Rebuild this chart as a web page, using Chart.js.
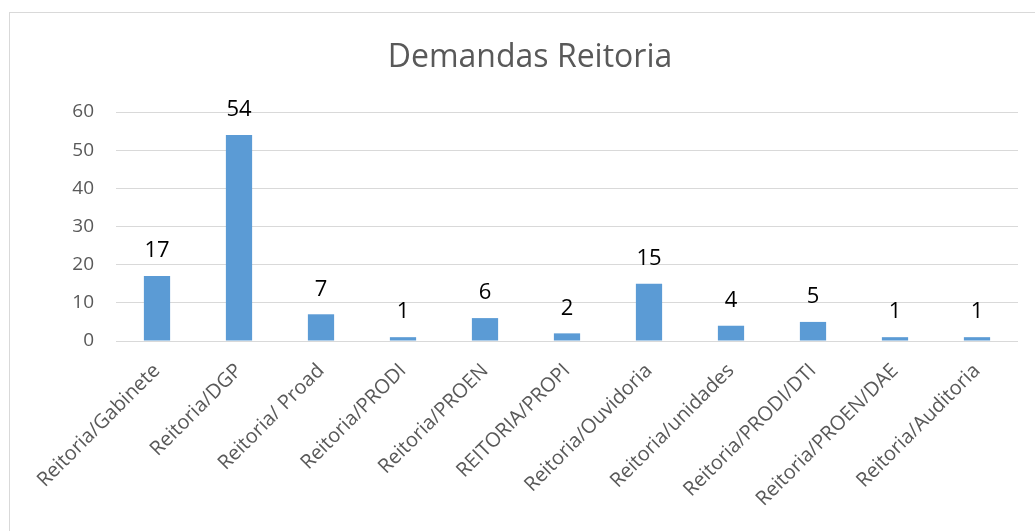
<!DOCTYPE html>
<html>
<head>
<meta charset="utf-8">
<script src="https://cdn.jsdelivr.net/npm/chart.js@4/dist/chart.umd.min.js"></script>
<style>
  html, body { margin: 0; padding: 0; background: #ffffff; overflow: hidden; }
  #frame { position: absolute; left: 9px; top: 12px; width: 1100px; height: 600px; border: 1px solid #d9d9d9; box-sizing: border-box; }
  #wrap { position: absolute; left: 0; top: 0; width: 1035px; height: 531px; }
</style>
</head>
<body>
<div id="frame"></div>
<div id="wrap"><canvas id="c" width="1035" height="531"></canvas></div>
<script>
const chartTitle = "Demandas Reitoria";
const categories = [
  "Reitoria/Gabinete", "Reitoria/DGP", "Reitoria/ Proad", "Reitoria/PRODI",
  "Reitoria/PROEN", "REITORIA/PROPI", "Reitoria/Ouvidoria", "Reitoria/unidades",
  "Reitoria/PRODI/DTI", "Reitoria/PROEN/DAE", "Reitoria/Auditoria"
];
const values = [17, 54, 7, 1, 6, 2, 15, 4, 5, 1, 1];
const yTicks = [0, 10, 20, 30, 40, 50, 60];

const FONT = "'Open Sans', 'DejaVu Sans', sans-serif";

const titleDrawer = {
  id: 'titleDrawer',
  afterDraw(chart) {
    const ctx = chart.ctx;
    ctx.save();
    ctx.font = "32px " + FONT;
    ctx.fillStyle = "#595959";
    ctx.textAlign = "center";
    ctx.textBaseline = "alphabetic";
    ctx.fillText(chartTitle, 530, 67);
    ctx.restore();
  }
};

const valueLabels = {
  id: 'valueLabels',
  afterDatasetsDraw(chart) {
    const ctx = chart.ctx;
    const meta = chart.getDatasetMeta(0);
    ctx.save();
    ctx.font = "22px " + FONT;
    ctx.fillStyle = "#000000";
    ctx.textAlign = "center";
    ctx.textBaseline = "bottom";
    meta.data.forEach((bar, i) => {
      ctx.fillText(String(values[i]), bar.x, bar.y - 14);
    });
    ctx.restore();
  }
};

new Chart(document.getElementById('c'), {
  type: 'bar',
  data: {
    labels: categories,
    datasets: [{
      data: values,
      backgroundColor: '#5B9BD5',
      borderWidth: 0,
      categoryPercentage: 1.0,
      barPercentage: 0.32
    }]
  },
  options: {
    responsive: false,
    animation: false,
    devicePixelRatio: 1,
    layout: { padding: { left: 0, right: 17, top: 112, bottom: 0 } },
    plugins: {
      legend: { display: false },
      tooltip: { enabled: false },
      title: { display: false }
    },
    scales: {
      x: {
        grid: { display: false, drawTicks: false },
        border: { display: false },
        ticks: {
          color: '#595959',
          font: { family: FONT, size: 20 },
          maxRotation: 45,
          minRotation: 45,
          padding: 18,
          autoSkip: false
        },
        afterFit(scale) { scale.height = 190; }
      },
      y: {
        min: 0,
        max: 60,
        afterBuildTicks(scale) { scale.ticks = yTicks.map(v => ({ value: v })); },
        grid: { color: '#d9d9d9', lineWidth: 1, drawTicks: false },
        border: { display: false },
        ticks: {
          color: '#595959',
          font: { family: FONT, size: 19 },
          padding: 22
        },
        afterFit(scale) { scale.width = 116; }
      }
    }
  },
  plugins: [valueLabels, titleDrawer]
});
</script>
</body>
</html>
